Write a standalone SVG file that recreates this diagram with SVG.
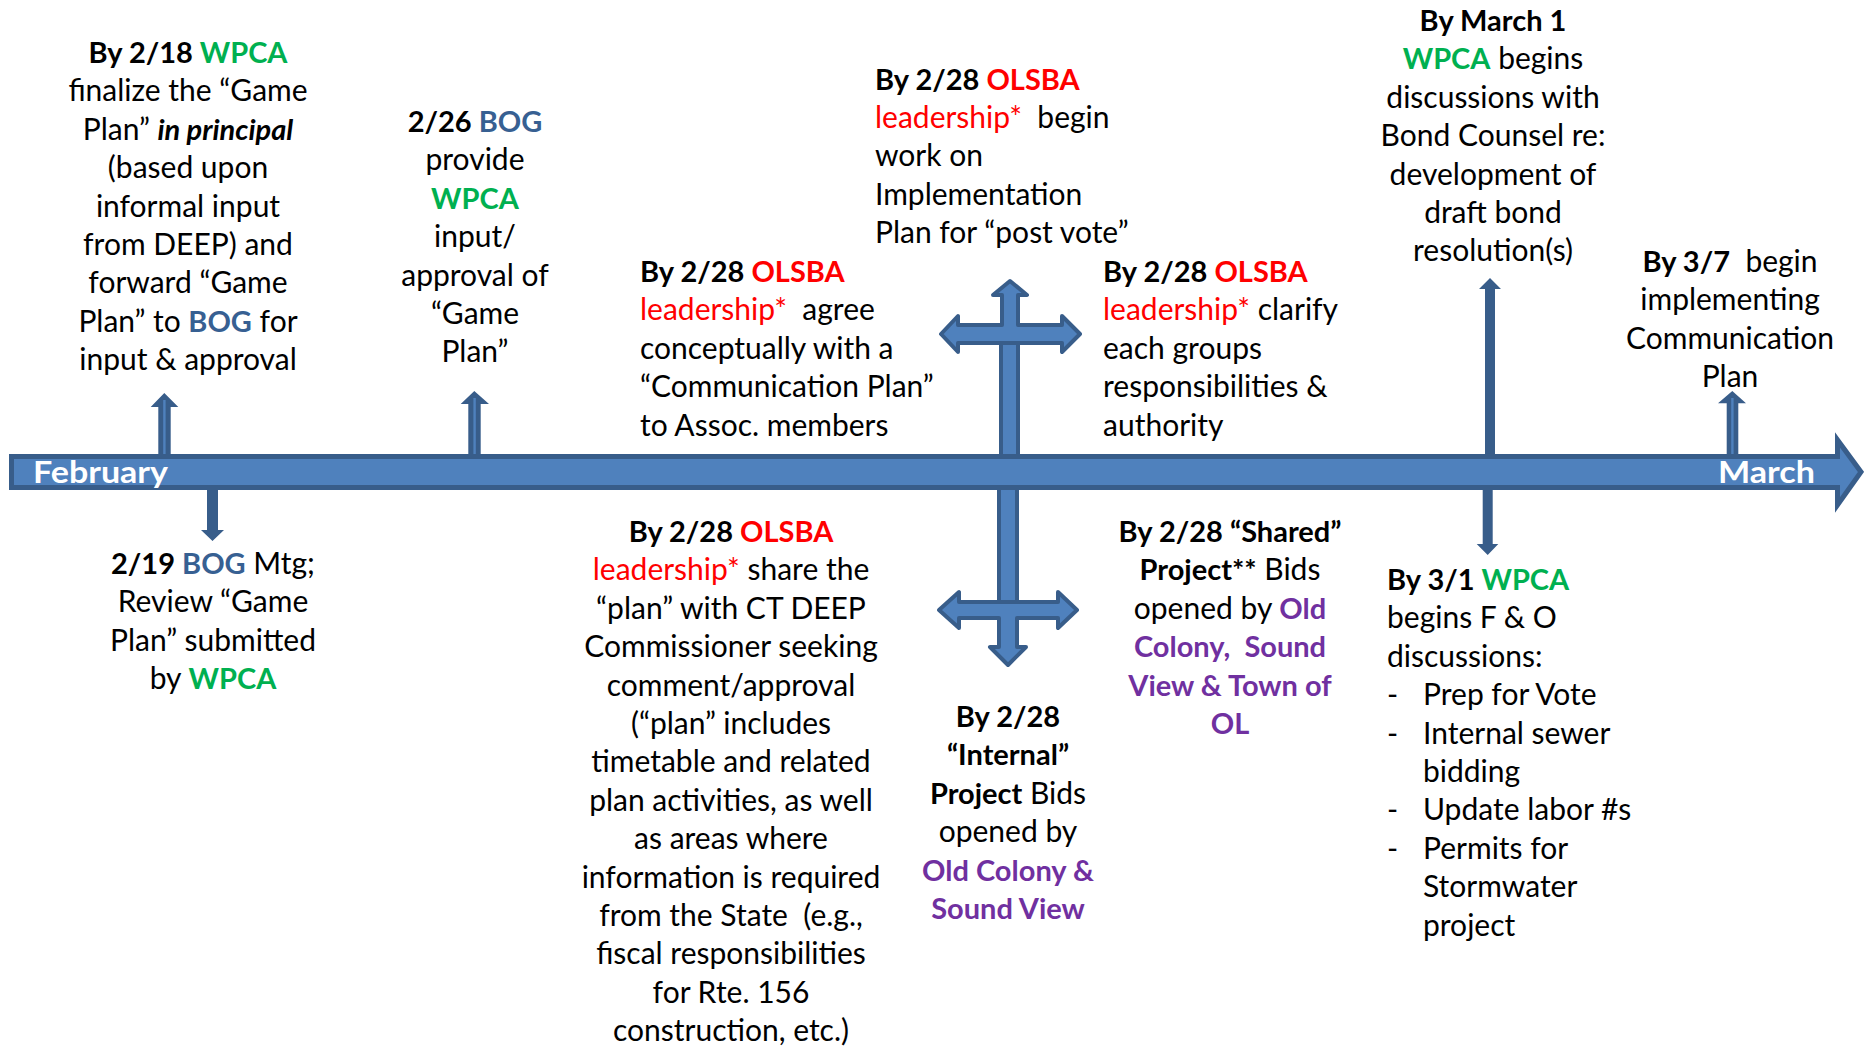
<svg xmlns="http://www.w3.org/2000/svg" width="1864" height="1046" viewBox="0 0 1864 1046">
  <style>
    .t { font-family: Lato, "Liberation Sans", sans-serif; font-size: 30px; fill: #000; white-space: pre; }
    .m { text-anchor: middle; }
    .b { font-weight: 700; font-size: 29px; }
    .bi { font-weight: 700; font-style: italic; font-size: 29px; }
    .g { fill: #00B050; font-weight: 700; font-size: 29px; }
    .r { fill: #FF0000; }
    .bl { fill: #376092; font-weight: 700; font-size: 29px; }
    .p { fill: #7030A0; font-weight: 700; font-size: 29px; }
    .month { font-family: Lato, "Liberation Sans", sans-serif; font-size: 30px; font-weight: 700; fill: #FFFFFF; }
    .dark { fill: #385D8A; }
    .light { fill: #4F81BD; }
    .outl { fill: #4F81BD; stroke: #385D8A; stroke-width: 4; stroke-linejoin: round; }
  </style>

  <!-- arrows tying each milestone to the timeline -->
  <g id="connectors">
    <!-- 2/18 up -->
    <polygon class="dark" points="164.3,393 178.3,407 170.7,407 170.7,458 158.3,458 158.3,407 150.7,407"/>
    <rect class="light" x="163.2" y="400" width="2.4" height="54"/>
    <!-- 2/26 up -->
    <polygon class="dark" points="474.3,391 489,404 480.7,404 480.7,458 468.3,458 468.3,404 460.7,404"/>
    <rect class="light" x="473.4" y="398" width="2.4" height="56"/>
    <!-- 2/19 down -->
    <polygon class="dark" points="207,486 218,486 218,530 224,530 212.5,541 201,530 207,530"/>
    <!-- 2/28 upper cross -->
    <rect class="outl" x="1001" y="343" width="17" height="114"/>
    <path class="outl" d="M1010,281 L1027,295 L1018,295 L1018,325 L1062,325 L1062,316 L1080,334 L1062,352 L1062,343 L958,343 L958,352 L941,334 L958,316 L958,325 L1002,325 L1002,295 L993,295 Z"/>
    <!-- 2/28 lower cross -->
    <rect class="outl" x="999" y="486" width="18" height="118"/>
    <path class="outl" d="M1008,665 L990,647 L999,647 L999,618 L959,618 L959,628 L939,610 L959,592 L959,602 L1058,602 L1058,592 L1077,610 L1058,628 L1058,618 L1017,618 L1017,647 L1026,647 Z"/>
    <!-- March 1 up / 3/1 down -->
    <polygon class="dark" points="1490,278 1501,289 1495,289 1495,458 1485,458 1485,289 1479,289"/>
    <polygon class="dark" points="1482.7,486 1492.7,486 1492.7,544 1498.3,544 1487.7,555 1476.7,544 1482.7,544"/>
    <!-- 3/7 up -->
    <polygon class="dark" points="1732.3,391 1746,403.3 1738.3,403.3 1738.3,458 1726.7,458 1726.7,403.3 1718,403.3"/>
    <rect class="light" x="1731.2" y="398" width="2.4" height="56"/>
  </g>

  <!-- timeline bar -->
  <g id="timeline">
    <polygon points="11.5,456.5 1837.5,456.5 1837.5,440 1861,472 1837.5,505 1837.5,487.5 11.5,487.5" fill="#4F81BD" stroke="#385D8A" stroke-width="5" stroke-linejoin="miter"/>
    <text class="month" x="33" y="483" textLength="135" lengthAdjust="spacingAndGlyphs">February</text>
    <text class="month" x="1718" y="483" textLength="97" lengthAdjust="spacingAndGlyphs">March</text>
  </g>

  <g id="wpca-game-plan">
    <text class="t m" x="188" y="63"><tspan class="b">By 2/18 </tspan><tspan class="g">WPCA</tspan></text>
    <text class="t m" x="188" y="101.4">finalize the “Game</text>
    <text class="t m" x="188" y="139.8">Plan” <tspan class="bi">in principal</tspan></text>
    <text class="t m" x="188" y="178.2">(based upon</text>
    <text class="t m" x="188" y="216.6">informal input</text>
    <text class="t m" x="188" y="255">from DEEP) and</text>
    <text class="t m" x="188" y="293.4">forward “Game</text>
    <text class="t m" x="188" y="331.8">Plan” to <tspan class="bl">BOG</tspan> for</text>
    <text class="t m" x="188" y="370.2">input &amp; approval</text>
  </g>

  <g id="bog-approval">
    <text class="t m" x="475" y="132"><tspan class="b">2/26 </tspan><tspan class="bl">BOG</tspan></text>
    <text class="t m" x="475" y="170.4">provide</text>
    <text class="t m g" x="475" y="208.8">WPCA</text>
    <text class="t m" x="475" y="247.2">input/</text>
    <text class="t m" x="475" y="285.6">approval of</text>
    <text class="t m" x="475" y="324">“Game</text>
    <text class="t m" x="475" y="362.4">Plan”</text>
  </g>

  <g id="bog-meeting">
    <text class="t m" x="213" y="574"><tspan class="b">2/19 </tspan><tspan class="bl">BOG</tspan> Mtg;</text>
    <text class="t m" x="213" y="612.4">Review “Game</text>
    <text class="t m" x="213" y="650.8">Plan” submitted</text>
    <text class="t m" x="213" y="689.2">by <tspan class="g">WPCA</tspan></text>
  </g>

  <g id="olsba-implementation">
    <text class="t" x="875" y="89.5"><tspan class="b">By 2/28 </tspan><tspan class="b r">OLSBA</tspan></text>
    <text class="t" x="875" y="127.9"><tspan class="r">leadership*</tspan>  begin</text>
    <text class="t" x="875" y="166.3">work on</text>
    <text class="t" x="875" y="204.7">Implementation</text>
    <text class="t" x="875" y="243.1">Plan for “post vote”</text>
  </g>

  <g id="olsba-communication">
    <text class="t" x="640" y="282"><tspan class="b">By 2/28 </tspan><tspan class="b r">OLSBA</tspan></text>
    <text class="t" x="640" y="320.4"><tspan class="r">leadership*</tspan>  agree</text>
    <text class="t" x="640" y="358.8">conceptually with a</text>
    <text class="t" x="640" y="397.2">“Communication Plan”</text>
    <text class="t" x="640" y="435.6">to Assoc. members</text>
  </g>

  <g id="olsba-responsibilities">
    <text class="t" x="1103" y="282"><tspan class="b">By 2/28 </tspan><tspan class="b r">OLSBA</tspan></text>
    <text class="t" x="1103" y="320.4"><tspan class="r">leadership*</tspan> clarify</text>
    <text class="t" x="1103" y="358.8">each groups</text>
    <text class="t" x="1103" y="397.2">responsibilities &amp;</text>
    <text class="t" x="1103" y="435.6">authority</text>
  </g>

  <g id="bond-counsel">
    <text class="t m b" x="1493" y="31">By March 1</text>
    <text class="t m" x="1493" y="69.4"><tspan class="g">WPCA</tspan> begins</text>
    <text class="t m" x="1493" y="107.8">discussions with</text>
    <text class="t m" x="1493" y="146.2">Bond Counsel re:</text>
    <text class="t m" x="1493" y="184.6">development of</text>
    <text class="t m" x="1493" y="223">draft bond</text>
    <text class="t m" x="1493" y="261.4">resolution(s)</text>
  </g>

  <g id="communication-plan">
    <text class="t m" x="1730" y="272"><tspan class="b">By 3/7</tspan>  begin</text>
    <text class="t m" x="1730" y="310.4">implementing</text>
    <text class="t m" x="1730" y="348.8">Communication</text>
    <text class="t m" x="1730" y="387.2">Plan</text>
  </g>

  <g id="olsba-deep">
    <text class="t m" x="731" y="542"><tspan class="b">By 2/28 </tspan><tspan class="b r">OLSBA</tspan></text>
    <text class="t m" x="731" y="580.4"><tspan class="r">leadership*</tspan> share the</text>
    <text class="t m" x="731" y="618.8">“plan” with CT DEEP</text>
    <text class="t m" x="731" y="657.2">Commissioner seeking</text>
    <text class="t m" x="731" y="695.6">comment/approval</text>
    <text class="t m" x="731" y="734">(“plan” includes</text>
    <text class="t m" x="731" y="772.4">timetable and related</text>
    <text class="t m" x="731" y="810.8">plan activities, as well</text>
    <text class="t m" x="731" y="849.2">as areas where</text>
    <text class="t m" x="731" y="887.6">information is required</text>
    <text class="t m" x="731" y="926">from the State  (e.g.,</text>
    <text class="t m" x="731" y="964.4">fiscal responsibilities</text>
    <text class="t m" x="731" y="1002.8">for Rte. 156</text>
    <text class="t m" x="731" y="1041.2">construction, etc.)</text>
  </g>

  <g id="internal-bids">
    <text class="t m b" x="1008" y="727">By 2/28</text>
    <text class="t m b" x="1008" y="765.4">“Internal”</text>
    <text class="t m" x="1008" y="803.8"><tspan class="b">Project</tspan> Bids</text>
    <text class="t m" x="1008" y="842.2">opened by</text>
    <text class="t m p" x="1008" y="880.6">Old Colony &amp;</text>
    <text class="t m p" x="1008" y="919">Sound View</text>
  </g>

  <g id="shared-bids">
    <text class="t m b" x="1230" y="542">By 2/28 “Shared”</text>
    <text class="t m" x="1230" y="580.4"><tspan class="b">Project**</tspan> Bids</text>
    <text class="t m" x="1230" y="618.8">opened by <tspan class="p">Old</tspan></text>
    <text class="t m p" x="1230" y="657.2">Colony,  Sound</text>
    <text class="t m p" x="1230" y="695.6">View &amp; Town of</text>
    <text class="t m p" x="1230" y="734">OL</text>
  </g>

  <g id="f-and-o">
    <text class="t" x="1387" y="590"><tspan class="b">By 3/1 </tspan><tspan class="g">WPCA</tspan></text>
    <text class="t" x="1387" y="628.4">begins F &amp; O</text>
    <text class="t" x="1387" y="666.8">discussions:</text>
    <text class="t" x="1387" y="705.2">-</text>
    <text class="t" x="1423" y="705.2">Prep for Vote</text>
    <text class="t" x="1387" y="743.6">-</text>
    <text class="t" x="1423" y="743.6">Internal sewer</text>
    <text class="t" x="1423" y="782">bidding</text>
    <text class="t" x="1387" y="820.4">-</text>
    <text class="t" x="1423" y="820.4">Update labor #s</text>
    <text class="t" x="1387" y="858.8">-</text>
    <text class="t" x="1423" y="858.8">Permits for</text>
    <text class="t" x="1423" y="897.2">Stormwater</text>
    <text class="t" x="1423" y="935.6">project</text>
  </g>
</svg>
